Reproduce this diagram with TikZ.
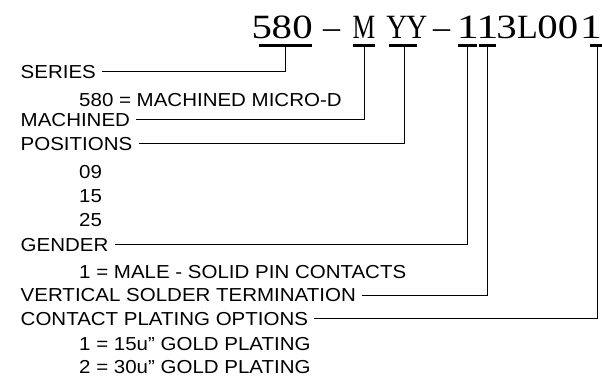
\documentclass[tikz,border=0pt]{standalone}
\usepackage{fontspec}
\setmainfont{Liberation Sans}
\newfontfamily\titlefont{Liberation Serif}
\tikzset{
  lbl/.style={anchor=base west, inner xsep=0pt, inner ysep=0pt,
    font=\fontsize{18.8}{21}\selectfont, text height=13.4pt, text depth=0pt, xscale=1.09, transform shape},
  ttl/.style={anchor=base, inner sep=0pt, font=\titlefont\fontsize{34}{40}\selectfont, transform shape},
  dg/.style={ttl, xscale=1.2},
  conn/.style={line width=0.9pt, shorten <=6pt},
  ubar/.style={line width=3pt}
}
\begin{document}
\begin{tikzpicture}[x=1pt,y=-1pt]
\useasboundingbox (0,0) rectangle (602,377);
% title, one node per character
\node[dg] (c1) at (261.7,38.5) {5};
\node[dg] (c2) at (281.7,38.5) {8};
\node[dg] (c3) at (302.5,38.5) {0};
\node[ttl] (c4) at (331.5,38.5) {\char"2013};
\node[ttl, xscale=0.75] (c5) at (364,38.5) {M};
\node[ttl, xscale=0.85] (c6) at (396.7,38.5) {Y};
\node[ttl, xscale=0.85] (c7) at (416.7,38.5) {Y};
\node[ttl] (c8) at (441.5,38.5) {\char"2013};
\node[ttl, xscale=1.3] (c9) at (468,38.5) {1};
\node[ttl, xscale=1.3] (c10) at (487.3,38.5) {1};
\node[dg] (c11) at (506.5,38.5) {3};
\node[ttl] (c12) at (527.5,38.5) {L};
\node[dg] (c13) at (547.5,38.5) {0};
\node[dg] (c14) at (568,38.5) {0};
\node[ttl, xscale=1.3] (c15) at (591,38.5) {1};
% underlines
\draw[ubar] (259,46) -- (312,46);
\draw[ubar] (353,46) -- (375,46);
\draw[ubar] (389,46) -- (417,46);
\draw[ubar] (458,46) -- (477,46);
\draw[ubar] (478.5,46) -- (496,46);
\draw[ubar] (590,46) -- (604,46);
\coordinate (u1) at (285,46);
\coordinate (u2) at (364,46);
\coordinate (u3) at (404,46);
\coordinate (u4) at (467.7,46);
\coordinate (u5) at (487.3,46);
\coordinate (u6) at (597.5,46);
% labels
\node[lbl] (series) at (20.5,78.3) {SERIES};
\node[lbl] (s1) at (79,106.6) {580 = MACHINED MICRO-D};
\node[lbl] (mach) at (20.5,126.6) {MACHINED};
\node[lbl] (pos) at (20.5,150.3) {POSITIONS};
\node[lbl] (p1) at (79,178.3) {09};
\node[lbl] (p2) at (79,202.8) {15};
\node[lbl] (p3) at (79,226.3) {25};
\node[lbl] (gender) at (20.5,251) {GENDER};
\node[lbl] (g1) at (79,278.3) {1 = MALE - SOLID PIN CONTACTS};
\node[lbl] (vert) at (20.5,301.7) {VERTICAL SOLDER TERMINATION};
\node[lbl] (cont) at (20.5,325) {CONTACT PLATING OPTIONS};
\node[lbl] (o1) at (79,350) {1 = 15u\char"22\ GOLD PLATING};
\node[lbl] (o2) at (79,373.3) {2 = 30u\char"22\ GOLD PLATING};
% connectors
\draw[conn] (series.east) -| (u1);
\draw[conn] (mach.east) -| (u2);
\draw[conn] (pos.east) -| (u3);
\draw[conn] (gender.east) -| (u4);
\draw[conn] (vert.east) -| (u5);
\draw[conn] (cont.east) -| (u6);
\end{tikzpicture}
\end{document}
